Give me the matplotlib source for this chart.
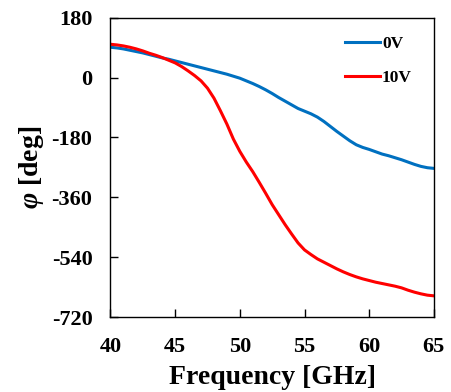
import matplotlib.pyplot as plt

freq = [40, 40.5, 41, 41.5, 42, 42.5, 43, 43.5, 44, 44.5, 45, 45.5, 46, 46.5, 47, 47.5,
        48, 48.5, 49, 49.5, 50, 50.5, 51, 51.5, 52, 52.5, 53, 53.5, 54, 54.5, 55, 55.5,
        56, 56.5, 57, 57.5, 58, 58.5, 59, 59.5, 60, 60.5, 61, 61.5, 62, 62.5, 63, 63.5,
        64, 64.5, 65]
phase_0v = [91, 89, 86, 82, 78, 74, 69, 64, 59, 55, 50, 45, 40, 35, 30, 25,
            20, 15, 10, 4, -2, -10, -18, -27, -37, -48, -60, -71, -82, -93, -101, -109,
            -119, -132, -147, -162, -176, -190, -202, -210, -216, -223, -230, -235, -241, -247, -254, -261,
            -267, -271, -273]
phase_10v = [100, 98, 95, 91, 86, 80, 73, 67, 60, 52, 44, 33, 20, 6, -10, -32,
             -62, -100, -140, -185, -222, -254, -283, -315, -348, -382, -412, -442, -470, -497, -518, -532,
             -545, -555, -565, -575, -584, -592, -599, -605, -610, -615, -619, -623, -627, -632, -639, -645,
             -650, -654, -656]

xticks = [40, 45, 50, 55, 60, 65]
yticks = [-720, -540, -360, -180, 0, 180]

plt.rcParams['font.family'] = 'Liberation Serif'
plt.rcParams['font.weight'] = 'bold'
plt.rcParams['axes.unicode_minus'] = False
plt.rcParams['mathtext.fontset'] = 'custom'
plt.rcParams['mathtext.it'] = 'Liberation Serif:italic:bold'
plt.rcParams['mathtext.rm'] = 'Liberation Serif:bold'

fig = plt.figure(figsize=(4.51, 3.92), dpi=100)
ax = fig.add_axes([0.245, 0.191, 0.717, 0.764])

ax.plot(freq, phase_0v, color='#0070C0', lw=2.2, label='0V')
ax.plot(freq, phase_10v, color='#FF0000', lw=2.2, label='10V')

ax.set_xlim(40, 65)
ax.set_ylim(-720, 180)
ax.set_xticks(xticks)
ax.set_yticks(yticks)
ax.tick_params(direction='in', length=6, width=1, labelsize=16, pad=13)
ax.tick_params(axis='x', pad=14)
for s in ax.spines.values():
    s.set_linewidth(1)

ax.set_xlabel('Frequency [GHz]', fontsize=20, fontweight='bold', labelpad=6)
ax.set_ylabel(r'$\mathit{\varphi}$ [deg]', fontsize=20, fontweight='bold', labelpad=4)

ax.legend(loc='upper right', frameon=False, fontsize=12.5, handlelength=2.0,
          handletextpad=0.1, labelspacing=1.0, bbox_to_anchor=(0.98, 0.99))

fig.savefig('out.png', dpi=100)
